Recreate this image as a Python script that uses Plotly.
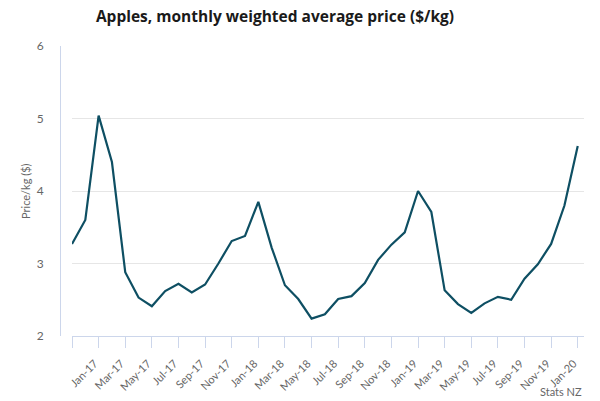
import plotly.graph_objects as go

# Months (Nov-16 .. Jan-20)
months = ["Nov-16", "Dec-16",
          "Jan-17", "Feb-17", "Mar-17", "Apr-17", "May-17", "Jun-17",
          "Jul-17", "Aug-17", "Sep-17", "Oct-17", "Nov-17", "Dec-17",
          "Jan-18", "Feb-18", "Mar-18", "Apr-18", "May-18", "Jun-18",
          "Jul-18", "Aug-18", "Sep-18", "Oct-18", "Nov-18", "Dec-18",
          "Jan-19", "Feb-19", "Mar-19", "Apr-19", "May-19", "Jun-19",
          "Jul-19", "Aug-19", "Sep-19", "Oct-19", "Nov-19", "Dec-19",
          "Jan-20"]

price = [3.27, 3.60,
         5.04, 4.40, 2.88, 2.53, 2.41, 2.62,
         2.72, 2.60, 2.71, 3.00, 3.31, 3.38,
         3.85, 3.22, 2.70, 2.51, 2.24, 2.30,
         2.51, 2.55, 2.73, 3.05, 3.26, 3.43,
         4.00, 3.71, 2.63, 2.44, 2.32, 2.45,
         2.54, 2.50, 2.79, 2.99, 3.27, 3.80,
         4.62]

tick_months = months[0::2]
tick_labels = [""] + tick_months[1:]

y_ticks = [2, 3, 4, 5, 6]

W, H = 600, 401
ML, MR, MT, MB = 60, 16, 46, 65
PW = W - ML - MR

fig = go.Figure()
fig.add_trace(go.Scatter(
    x=months, y=price, mode="lines",
    line=dict(color="#0e4f63", width=2.2),
    hoverinfo="x+y", showlegend=False,
))

fig.update_layout(
    width=W, height=H,
    margin=dict(l=ML, r=MR, t=MT, b=MB),
    paper_bgcolor="white", plot_bgcolor="white",
    font=dict(family="Lato, 'Open Sans', sans-serif", color="#666666"),
    title=dict(
        text="<b>Apples, monthly weighted average price ($/kg)</b>",
        x=275 / W, xanchor="center", y=1 - 17 / H, yanchor="middle",
        font=dict(size=15.5, color="#1a1a1a", family="'Open Sans', sans-serif"),
    ),
    xaxis=dict(
        type="category",
        domain=[12 / PW, 1],
        range=[0, 38.47],
        automargin=False,
        tickmode="array", tickvals=tick_months, ticktext=tick_labels,
        tickangle=-45,
        ticks="outside", ticklen=11, tickcolor="#ccd6eb", tickwidth=1,
        showline=True, linecolor="#ccd6eb", linewidth=1,
        showgrid=False, zeroline=False,
        ticklabelstandoff=5, ticklabelshift=-4,
        tickfont=dict(size=11, color="#666666"),
    ),
    yaxis=dict(
        range=[2, 6],
        tickvals=y_ticks,
        anchor="free", position=0,
        automargin=False,
        showline=True, linecolor="#ccd6eb", linewidth=1,
        showgrid=True, gridcolor="#e6e6e6", gridwidth=1,
        zeroline=False,
        ticks="", ticklabelstandoff=14,
        tickfont=dict(size=12, color="#666666"),
    ),
)

fig.add_annotation(
    text="Price/kg ($)", textangle=-90,
    xref="paper", yref="paper",
    x=(25 - ML) / PW, y=0.5, xanchor="center", yanchor="middle",
    showarrow=False, font=dict(size=11, color="#666666"),
)

fig.add_annotation(
    text="Stats NZ",
    xref="paper", yref="paper",
    x=1, y=-(391 - (H - MB)) / (H - MT - MB),
    xanchor="right", yanchor="middle",
    showarrow=False, font=dict(size=11, color="#666666"),
)

fig.write_html("out.html",
               config={"displayModeBar": False},
               post_script="document.body.style.margin='0';document.body.style.overflow='hidden';")
